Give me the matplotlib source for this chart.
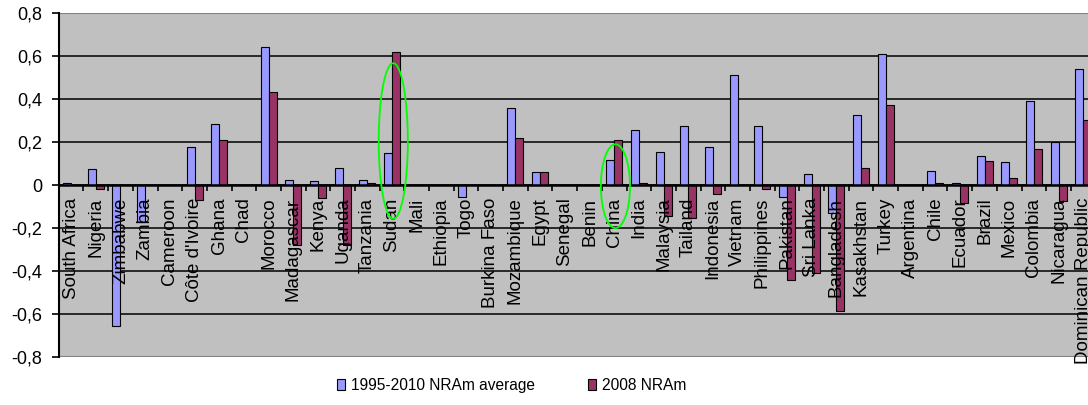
import numpy as np
import matplotlib.pyplot as plt
from matplotlib.patches import Ellipse
from matplotlib.patches import Patch

plt.rcParams['font.family'] = ['Liberation Sans', 'DejaVu Sans']


## data


countries = ['South Africa', 'Nigeria', 'Zimbabwe', 'Zambia', 'Cameroon', "Côte d'Ivoire",
	'Ghana', 'Chad', 'Morocco', 'Madagascar', 'Kenya', 'Uganda', 'Tanzania', 'Sudan',
	'Mali', 'Ethiopia', 'Togo', 'Burkina Faso', 'Mozambique', 'Egypt', 'Senegal', 'Benin',
	'China', 'India', 'Malaysia', 'Tailand', 'Indonesia', 'Vietnam', 'Philippines',
	'Pakistan', 'Sri Lanka', 'Bangladesh', 'Kasakhstan', 'Turkey', 'Argentina', 'Chile',
	'Ecuador', 'Brazil', 'Mexico', 'Colombia', 'Nicaragua', 'Dominican Republic']

# average nominal rate of assistance 1995-2010
nra_avg = [0.012, 0.075, -0.655, -0.17, 0.0, 0.176,
	0.283, 0.0, 0.642, 0.025, 0.02, 0.08, 0.025, 0.148,
	0.0, 0.0, -0.055, 0.0, 0.358, 0.06, 0.0, 0.0,
	0.115, 0.257, 0.156, 0.276, 0.176, 0.514, 0.276,
	-0.055, 0.053, -0.128, 0.324, 0.609, 0.0, 0.067,
	0.012, 0.136, 0.107, 0.393, 0.2, 0.54]

# nominal rate of assistance in 2008
nra_2008 = [0.0, -0.02, 0.0, 0.0, 0.0, -0.07,
	0.209, 0.0, 0.431, -0.28, -0.058, -0.28, 0.008, 0.617,
	0.0, 0.0, 0.0, 0.0, 0.218, 0.06, 0.0, 0.0,
	0.209, 0.012, -0.145, -0.153, -0.04, 0.0, -0.019,
	-0.44, -0.41, -0.584, 0.081, 0.372, 0.0, 0.012,
	-0.083, 0.114, 0.034, 0.17, -0.075, 0.304]

yticks = [-0.8, -0.6, -0.4, -0.2, 0, 0.2, 0.4, 0.6, 0.8]

# countries that get a circle drawn round them
circled = ['Sudan', 'China']


## plot


fig = plt.figure(figsize=(10.88, 4.05), dpi=100)
ax = fig.add_axes([0.054, 0.1185, 0.953, 0.849])
ax.set_facecolor('#C0C0C0')

x = np.arange(len(countries))
w = 0.324
ax.bar(x - w/2, nra_avg, w, color='#9999FF', edgecolor='black', linewidth=0.8, zorder=3)
ax.bar(x + w/2, nra_2008, w, color='#993366', edgecolor='black', linewidth=0.8, zorder=3)

ax.set_xlim(-0.5, len(countries) - 0.5)
ax.set_ylim(-0.8, 0.8)

# gridlines and frame
for v in yticks[1:-1]:
	ax.axhline(v, color='black', linewidth=1.1, zorder=1)
ax.axhline(0.8, color='#808080', linewidth=1.5, zorder=1)
ax.axhline(-0.8, color='#808080', linewidth=1.5, zorder=1)
for s in ['top', 'right']:
	ax.spines[s].set_visible(False)
ax.spines['left'].set_linewidth(1.5)
ax.spines['bottom'].set_position(('data', 0))
ax.spines['bottom'].set_linewidth(1.8)
ax.spines['bottom'].set_zorder(4)

ax.set_yticks(yticks)
ax.set_yticklabels([f'{v:g}'.replace('.', ',') for v in yticks], fontsize=13)
ax.tick_params(axis='y', direction='out', length=5, width=1.2, pad=7)

ax.set_xticks(np.arange(-0.5, len(countries), 1))
ax.set_xticklabels([])
ax.tick_params(axis='x', direction='out', length=4, width=1.2)

# category names written just under the zero line
for i, name in enumerate(countries):
	ax.annotate(name, (i, 0), xytext=(0, -9), textcoords='offset points',
		rotation=90, ha='center', va='top', fontsize=13.5, zorder=5)

# circles
for name, cy, h in zip(circled, [0.205, -0.005], [0.724, 0.39]):
	i = countries.index(name)
	ax.add_patch(Ellipse((i + 0.05, cy), 1.18, h, fill=False, edgecolor='#00FF00',
		linewidth=1.3, zorder=6))

handles = [Patch(facecolor='#9999FF', edgecolor='black', linewidth=0.8),
	Patch(facecolor='#993366', edgecolor='black', linewidth=0.8)]
fig.legend(handles, ['1995-2010 NRAm average', '2008 NRAm'], loc='center',
	bbox_to_anchor=(0.47, 0.049), ncol=2, frameon=False, fontsize=11.2,
	handlelength=0.55, handleheight=0.7, handletextpad=0.35, columnspacing=3.4)

fig.savefig('out.png', dpi=100)
